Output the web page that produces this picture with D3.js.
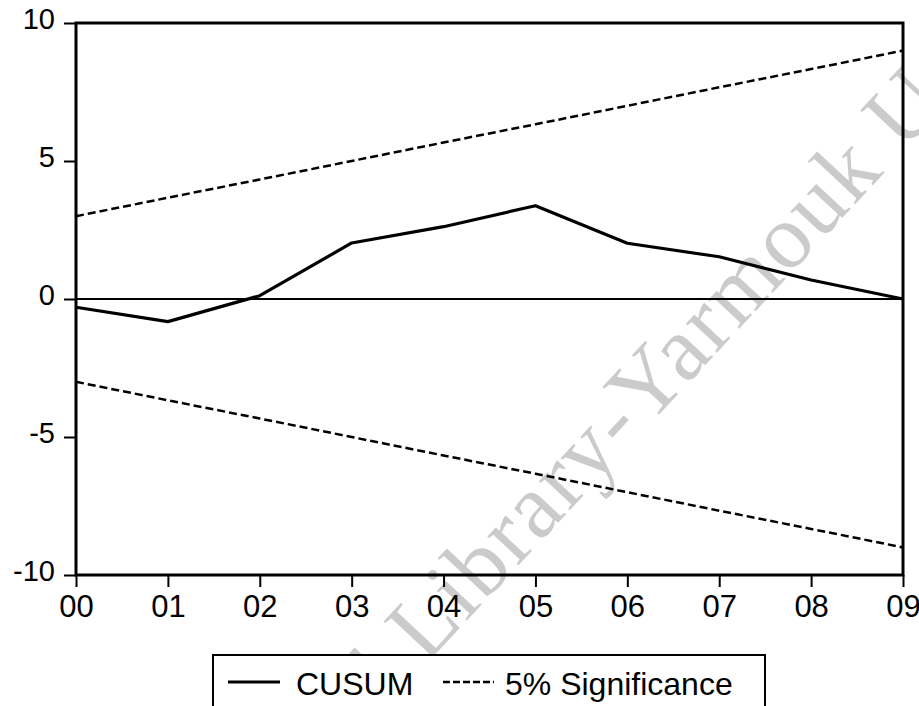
<!DOCTYPE html>
<html>
<head>
<meta charset="utf-8">
<script src="https://cdnjs.cloudflare.com/ajax/libs/d3/7.8.5/d3.min.js"></script>
<style>
    body { margin: 0; background: #fff; }
    svg { display: block; }
    .tick text { font-family: "Liberation Sans", Arial, sans-serif; fill: #000; }
</style>
</head>
<body>
<script>

// DATA

let years = ["00", "01", "02", "03", "04", "05", "06", "07", "08", "09"];
let cusum = [-0.3, -0.82, 0.12, 2.03, 2.62, 3.38, 2.02, 1.53, 0.69, 0.0];
let upper5 = [3.0, 3.67, 4.33, 5.0, 5.67, 6.33, 7.0, 7.67, 8.33, 9.0];
let lower5 = [-3.0, -3.67, -4.33, -5.0, -5.67, -6.33, -7.0, -7.67, -8.33, -9.0];
let yTicks = [-10, -5, 0, 5, 10];
let legendLabels = ["CUSUM", "5% Significance"];

// CHART

let width = 919;
let height = 706;
let plotLeft = 76, plotRight = 903, plotTop = 23, plotBottom = 575;

let svg = d3.select("body").append("svg")
    .attr("width", width)
    .attr("height", height);

// watermark of the scanned page
svg.append("text")
    .attr("transform", "translate(225,880) rotate(-47)")
    .style("font-family", "'Liberation Serif', 'Times New Roman', serif")
    .style("font-size", "92px")
    .style("letter-spacing", "2px")
    .style("fill", "#cbcbcb")
    .text("Digital Library-Yarmouk University");

let x_scale = d3.scalePoint()
    .domain(years)
    .range([plotLeft, plotRight]);

let y_scale = d3.scaleLinear()
    .domain([-10, 10])
    .range([plotBottom, plotTop]);

// zero line
svg.append("line")
    .attr("x1", plotLeft).attr("x2", plotRight)
    .attr("y1", y_scale(0)).attr("y2", y_scale(0))
    .attr("stroke", "#000")
    .attr("stroke-width", 2);

let line = d3.line()
    .x((d, i) => x_scale(years[i]))
    .y(d => y_scale(d));

[upper5, lower5].forEach(s => {
    svg.append("path")
        .attr("d", line(s))
        .attr("fill", "none")
        .attr("stroke", "#000")
        .attr("stroke-width", 2.5)
        .attr("stroke-dasharray", "8,4");
});

svg.append("path")
    .attr("d", line(cusum))
    .attr("fill", "none")
    .attr("stroke", "#000")
    .attr("stroke-width", 3.2)
    .attr("stroke-linejoin", "round");

// frame
svg.append("rect")
    .attr("x", plotLeft).attr("y", plotTop)
    .attr("width", plotRight - plotLeft).attr("height", plotBottom - plotTop)
    .attr("fill", "none")
    .attr("stroke", "#000")
    .attr("stroke-width", 3);

let x_axis = d3.axisBottom(x_scale).tickSize(12).tickPadding(8);
let gx = svg.append("g")
    .attr("class", "x axis")
    .attr("transform", "translate(0," + plotBottom + ")")
    .call(x_axis);
gx.select(".domain").remove();
gx.selectAll(".tick line").attr("stroke-width", 2);
gx.selectAll(".tick text").style("font-size", "31px").attr("dy", "0.72em");

let y_axis = d3.axisLeft(y_scale).tickValues(yTicks).tickFormat(d => String(d)).tickSize(12).tickPadding(9);
let gy = svg.append("g")
    .attr("class", "y axis")
    .attr("transform", "translate(" + plotLeft + ",0)")
    .call(y_axis);
gy.select(".domain").remove();
gy.selectAll(".tick line").attr("stroke-width", 2);
gy.selectAll(".tick text").style("font-size", "29px").attr("dy", "0.2em");

// LEGEND

let legend = svg.append("g");
legend.append("rect")
    .attr("x", 213).attr("y", 655)
    .attr("width", 552).attr("height", 70)
    .attr("fill", "#fff")
    .attr("stroke", "#000")
    .attr("stroke-width", 2);

legend.append("line")
    .attr("x1", 228).attr("x2", 280)
    .attr("y1", 682).attr("y2", 682)
    .attr("stroke", "#000").attr("stroke-width", 3);
legend.append("line")
    .attr("x1", 443).attr("x2", 494)
    .attr("y1", 682).attr("y2", 682)
    .attr("stroke", "#000").attr("stroke-width", 2.5)
    .attr("stroke-dasharray", "7,3");

legend.selectAll("text.lbl")
    .data(legendLabels)
    .join("text")
    .attr("class", "lbl")
    .attr("x", (d, i) => i == 0 ? 296 : 505)
    .attr("y", 695)
    .style("font-family", "'Liberation Sans', Arial, sans-serif")
    .style("font-size", "32px")
    .text(d => d);

</script>
</body>
</html>
